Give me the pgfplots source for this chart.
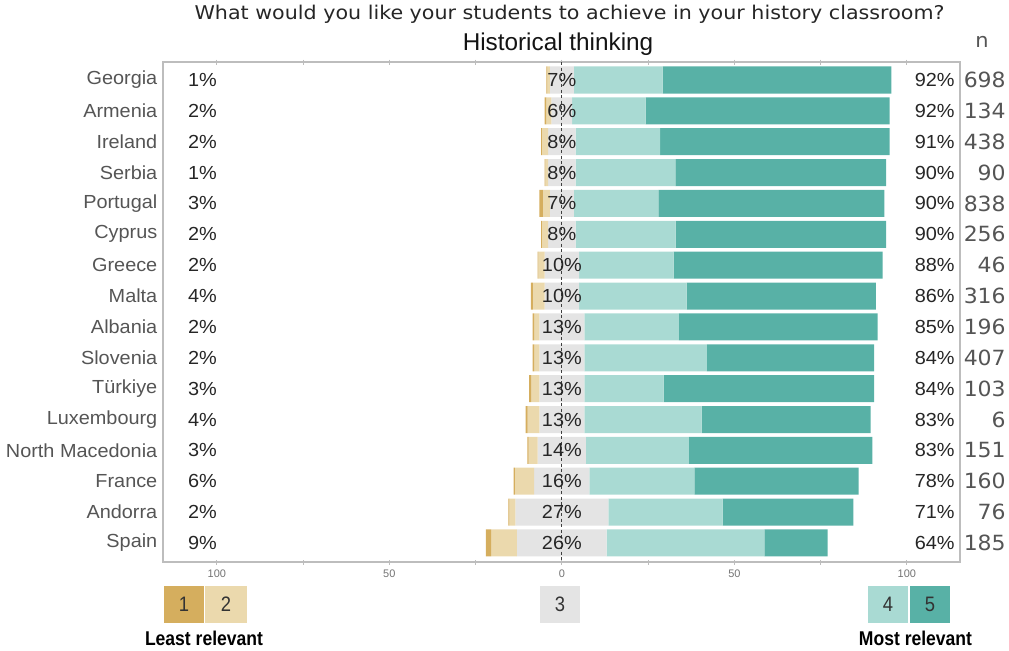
\documentclass[border=0pt]{standalone}
\usepackage{pgfplots}
\pgfplotsset{compat=1.18}
\usepackage{pgfplotstable}
\usepackage{fontspec}
\setmainfont{Liberation Sans}
\newfontfamily\labfont[FakeStretch=1.05]{Liberation Sans}
\newfontfamily\titlefont[FakeStretch=1.09]{DejaVu Sans}
\newfontfamily\condfont[FakeStretch=0.88]{Liberation Sans}
\newfontfamily\nfont[FakeStretch=1.05]{DejaVu Sans}

\definecolor{c1}{HTML}{D5AE5E}
\definecolor{c2}{HTML}{EBD9AD}
\definecolor{c3}{HTML}{E4E4E4}
\definecolor{c4}{HTML}{A9DAD3}
\definecolor{c5}{HTML}{58B1A6}
\definecolor{framegray}{HTML}{BDBDBD}
\definecolor{labgray}{HTML}{555555}

\pgfplotstableread[col sep=comma]{
y,country,s1,s2,s3,s4,s5,lo,hi,n
0,Georgia,0.2,0.8,7,25.7,66.3,1,92,698
1,Armenia,0.5,1.5,6,21.3,70.7,2,92,134
2,Ireland,0.2,1.8,8,24.5,66.5,2,91,438
3,Serbia,0.2,0.8,8,28.9,61.1,1,90,90
4,Portugal,1,2,7,24.5,65.5,3,90,838
5,Cyprus,0.2,1.8,8,29,61,2,90,256
6,Greece,0.2,1.8,10,27.4,60.6,2,88,46
7,Malta,0.6,3.4,10,31.2,54.8,4,86,316
8,Albania,0.5,1.5,13,27.4,57.6,2,85,196
9,Slovenia,0.5,1.5,13,35.5,48.5,2,84,407
10,Türkiye,0.6,2.4,13,23,61,3,84,103
11,Luxembourg,0.6,3.4,13,34,49,4,83,6
12,North Macedonia,0.4,2.6,14,29.8,53.2,3,83,151
13,France,0.4,5.6,16,30.4,47.6,6,78,160
14,Andorra,0.3,1.7,27,33.1,37.9,2,71,76
15,Spain,1.5,7.5,26,45.7,18.3,9,64,185
}\data

\begin{document}
\begin{tikzpicture}
\path[use as bounding box] (-163bp,-89bp) rectangle (846bp,562bp);
\pgfplotsset{
  common/.style={
    at={(0,0)}, anchor=south west, scale only axis,
    width=797bp, height=500bp,
    xmin=-115.6, xmax=115.4, ymin=-0.583, ymax=15.617, y dir=reverse,
  }
}
\begin{axis}[common,
  xbar stacked, stack negative=on previous, bar width=0.875,
  axis line style={draw=framegray, line width=1.2bp},
  xtick={-100,-50,0,50,100}, xticklabels={100,50,0,50,100},
  minor xtick={-75,-25,25,75},
  xtick pos=both, xticklabel pos=left,
  tick align=center,
  major tick length=5bp, minor tick length=5bp,
  x tick style={draw=framegray, line width=0.8bp},
  xticklabel style={font=\fontsize{11}{11}\selectfont, text=black!55, yshift=-2bp},
  ytick={0,...,15}, yticklabels from table={\data}{country},
  y tick style={draw=none},
  yticklabel style={font=\labfont\fontsize{19}{19}\selectfont, text=labgray, inner sep=0pt, xshift=-3bp},
]
\addplot[draw=none, fill=none] table[x expr={-(\thisrow{s3}/2+\thisrow{s1}+\thisrow{s2})}, y=y] {\data};
\addplot[fill=c1, draw=none] table[x=s1, y=y] {\data};
\addplot[fill=c2, draw=none] table[x=s2, y=y] {\data};
\addplot[fill=c3, draw=none] table[x=s3, y=y] {\data};
\addplot[fill=c4, draw=none] table[x=s4, y=y] {\data};
\addplot[fill=c5, draw=none] table[x=s5, y=y] {\data};
\end{axis}

\begin{axis}[common, hide axis, clip=false]
\addplot[draw=black!75, dash pattern=on 3bp off 2.5bp, line width=0.8bp] coordinates {(0,-0.583) (0,15.617)};
\addplot[only marks, mark=none, point meta=explicit symbolic,
  nodes near coords={\pgfplotspointmeta\%},
  nodes near coords style={anchor=west, inner sep=0pt, font=\labfont\fontsize{19}{19}\selectfont, text=black!85}]
  table[x expr=-108.4, y=y, meta=lo] {\data};
\addplot[only marks, mark=none, point meta=explicit symbolic,
  nodes near coords={\pgfplotspointmeta\%},
  nodes near coords style={anchor=center, inner sep=0pt, font=\labfont\fontsize{19}{19}\selectfont, text=black!85}]
  table[x expr=0, y=y, meta=s3] {\data};
\addplot[only marks, mark=none, point meta=explicit symbolic,
  nodes near coords={\pgfplotspointmeta\%},
  nodes near coords style={anchor=east, inner sep=0pt, font=\labfont\fontsize{19}{19}\selectfont, text=black!85}]
  table[x expr=113.9, y=y, meta=hi] {\data};
\addplot[only marks, mark=none, point meta=explicit symbolic,
  nodes near coords={\pgfplotspointmeta},
  nodes near coords style={anchor=east, inner sep=0pt, font=\nfont\fontsize{21}{21}\selectfont, text=labgray}]
  table[x expr=128.7, y=y, meta=n] {\data};
\end{axis}

% titles
\node[anchor=base, font=\titlefont\fontsize{19}{19}\selectfont, text=black!85] at (406.5bp,542bp) {What would you like your students to achieve in your history classroom?};
\node[anchor=base, font=\fontsize{24.4}{24.4}\selectfont, text=black!92] at (395bp,511.3bp) {Historical thinking};
\node[anchor=base, font=\nfont\fontsize{20}{20}\selectfont, text=labgray] at (819bp,514bp) {n};

% legend
\begin{scope}[every node/.style={font=\condfont\fontsize{21}{21}\selectfont, text=black!80}]
\fill[c1] (1bp,-61bp) rectangle (41bp,-24bp);
\fill[c2] (42bp,-61bp) rectangle (84bp,-24bp);
\fill[c3] (377bp,-61bp) rectangle (417bp,-24bp);
\fill[c4] (705bp,-61bp) rectangle (745bp,-24bp);
\fill[c5] (747bp,-61bp) rectangle (787bp,-24bp);
\node at (21bp,-42.5bp) {1};
\node at (63bp,-42.5bp) {2};
\node at (397bp,-42.5bp) {3};
\node at (725bp,-42.5bp) {4};
\node at (767bp,-42.5bp) {5};
\end{scope}
\node[anchor=base, font=\condfont\bfseries\fontsize{20}{20}\selectfont, text=black] at (41bp,-83bp) {Least relevant};
\node[anchor=base, font=\condfont\bfseries\fontsize{20}{20}\selectfont, text=black] at (752.5bp,-83bp) {Most relevant};
\end{tikzpicture}
\end{document}
